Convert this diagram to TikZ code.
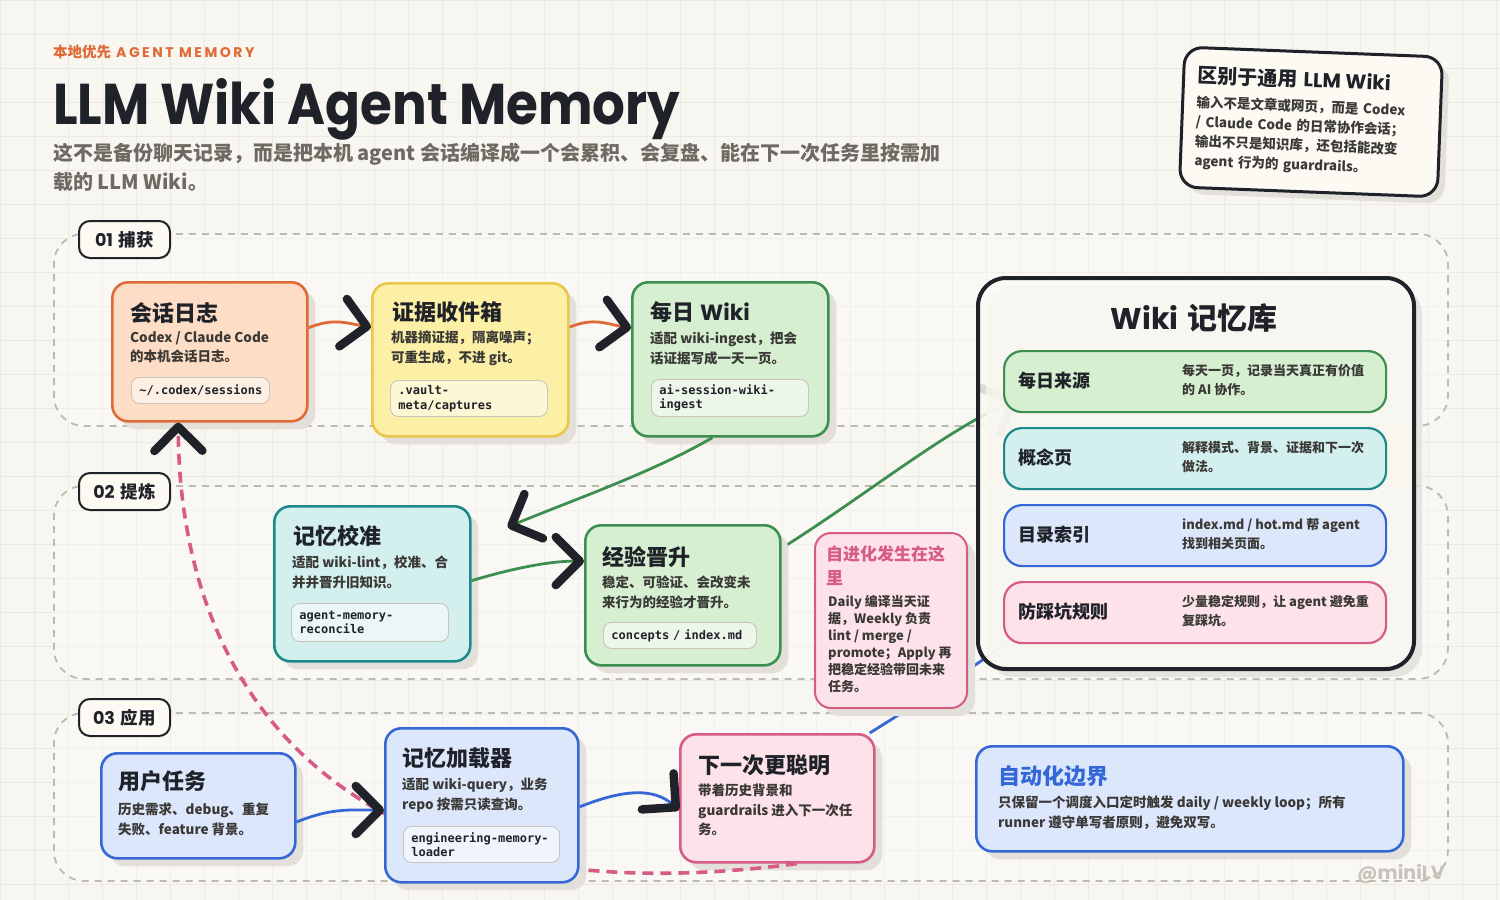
\documentclass[tikz,border=0pt]{standalone}
\usepackage{fontspec}
\setmainfont{Noto Sans CJK SC}
\setmonofont{DejaVu Sans Mono}
\newfontfamily\pop{Poppins}
\newfontfamily\popls{Poppins}[LetterSpace=18]
\usetikzlibrary{arrows.meta,calc,shadows}
\pgfdeclarelayer{bgl}\pgfdeclarelayer{under}\pgfdeclarelayer{over}\pgfdeclarelayer{top}\pgfdeclarelayer{topmost}
\pgfsetlayers{bgl,under,main,over,top,topmost}
\definecolor{bg}{HTML}{F8F6F0}
\definecolor{gridc}{HTML}{ECE9E1}
\definecolor{ink}{HTML}{1F2228}
\definecolor{bodyc}{HTML}{3A3936}
\definecolor{subc}{HTML}{6E6A63}
\definecolor{orB}{HTML}{E06A36}\definecolor{orF}{HTML}{FDDDC6}
\definecolor{yeB}{HTML}{EAC649}\definecolor{yeF}{HTML}{FCEFA6}
\definecolor{grB}{HTML}{3C8F50}\definecolor{grF}{HTML}{D7EFD1}
\definecolor{teB}{HTML}{1E8A8C}\definecolor{teF}{HTML}{D3EFEE}
\definecolor{blB}{HTML}{3568D6}\definecolor{blF}{HTML}{DCE7FC}
\definecolor{piB}{HTML}{D65B86}\definecolor{piF}{HTML}{FDE2EA}
\definecolor{shd}{HTML}{E2E0D9}
\definecolor{lanec}{HTML}{BDBAB2}
\definecolor{chipB}{HTML}{C8C5BD}
\definecolor{wm}{HTML}{C6C3BB}
\definecolor{cardF}{HTML}{FCFAF3}
\tikzset{
 card/.style={draw, line width=2.6pt, rounded corners=16pt, anchor=north west, inner sep=0pt,
   drop shadow={shadow xshift=8pt,shadow yshift=-8pt,fill=shd,opacity=1}},
 ttl/.style={anchor=west, inner sep=0pt, text=ink, font=\fontsize{22}{26}\selectfont\bfseries},
 bod/.style={anchor=north west, inner sep=0pt, text=bodyc, align=left, font=\fontsize{13.5}{19.5}\selectfont\bfseries},
 chip/.style={draw=chipB, line width=0.9pt, fill=white, fill opacity=0.55, text opacity=1, rounded corners=8pt,
   anchor=north west, inner xsep=8pt, inner ysep=0pt, align=left, text=ink, font=\fontsize{12}{14.5}\selectfont\ttfamily\bfseries},
 lane/.style={draw=lanec, line width=1.8pt, dash pattern=on 7pt off 6pt, rounded corners=30pt, fill=white, fill opacity=0.3,
   anchor=north west, inner sep=0pt, minimum width=1394pt},
 lab/.style={draw=ink, line width=2pt, fill=cardF, rounded corners=11pt, anchor=north west, minimum width=91pt,
   minimum height=37pt, inner sep=0pt, text=ink, font=\fontsize{17.5}{20}\selectfont\bfseries},
 wrow/.style={draw, line width=2.2pt, rounded corners=18pt, anchor=north west, minimum width=382pt, minimum height=61pt, inner sep=0pt},
 wlab/.style={anchor=west, inner sep=0pt, text=ink, font=\fontsize{18}{22}\selectfont\bfseries},
 wdes/.style={anchor=west, inner sep=0pt, text=bodyc, align=left, font=\fontsize{13}{19}\selectfont\bfseries},
 chev/.style={-{Straight Barb[length=24pt,width=48pt,line width=8.5pt,round,color=ink]}},
 conO/.style={orB, line width=2.8pt, chev},
 conG/.style={grB, line width=2.8pt, chev},
 conB/.style={blB, line width=2.8pt, chev},
 conBn/.style={blB, line width=2.8pt},
 conP/.style={piB, line width=3.6pt, dash pattern=on 11pt off 7pt, chev},
}
\begin{document}
\begin{tikzpicture}[x=1pt,y=-1pt]
\useasboundingbox (0,0) rectangle (1500,900);
\begin{pgfonlayer}{bgl}
\fill[bg] (0,0) rectangle (1500,900);
\foreach \g in {0,34,...,1500} \draw[gridc, line width=0.8pt] (\g,0) -- (\g,900);
\foreach \g in {0,34,...,900} \draw[gridc, line width=0.8pt] (0,\g) -- (1500,\g);
\node[lane, minimum height=192pt] (L1) at (53,233) {};
\node[lane, minimum height=193pt] (L2) at (53,485) {};
\node[lane, minimum height=168pt] (L3) at (53,712) {};
\node[lab] (lab1) at (78,220) {{\pop 01}\hspace{6pt}捕获};
\node[lab] (lab2) at (78,472) {{\pop 02}\hspace{6pt}提炼};
\node[lab] (lab3) at (78,698) {{\pop 03}\hspace{6pt}应用};
\end{pgfonlayer}

% header
\node[anchor=west, inner sep=0pt, text=orB] (kicker) at (53,52) {{\fontsize{14.5}{16}\selectfont\bfseries 本地优先\hspace{5pt}}{\popls\bfseries\fontsize{14}{16}\selectfont AGENT MEMORY}};
\node[anchor=base west, inner sep=0pt, text=ink] (title) at (53,124) {\resizebox{627pt}{46pt}{\pop\bfseries LLM Wiki Agent Memory}};
\node[anchor=north west, inner sep=0pt, text=subc, align=left, font=\fontsize{20}{29}\selectfont\bfseries] (sub) at (53,143)
 {这不是备份聊天记录，而是把本机 agent 会话编译成一个会累积、会复盘、能在下一次任务里按需加\\载的 LLM Wiki。};

% top-right card
\node[draw=ink, line width=3pt, fill=cardF, rounded corners=18pt, rotate=-2.2, minimum width=258pt, minimum height=140pt,
  text width=230pt, inner xsep=14pt, align=left, text=bodyc, font=\fontsize{13.5}{19.5}\selectfont\bfseries,
  drop shadow={shadow xshift=7pt,shadow yshift=-7pt,fill=shd,opacity=1}] (diff) at (1311,122)
 {{\color{ink}\fontsize{20}{22}\selectfont 区别于通用\hspace{6pt}{\pop\bfseries LLM Wiki}}\\[5pt]
  输入不是文章或网页，而是 Codex\\/ Claude Code 的日常协作会话；\\输出不只是知识库，还包括能改变\\agent 行为的 guardrails。};

% 01
\node[card, fill=orF, draw=orB, minimum width=195pt, minimum height=139pt] (s1) at (111,281) {};
\node[ttl] (s1t) at (130,313) {会话日志};
\node[bod] (s1b) at (130,331) {Codex / Claude Code\\的本机会话日志。};
\node[chip, text width=122pt, minimum height=26pt] (s1c) at (131,377) {\textasciitilde/.codex/sessions};

\node[card, fill=yeF, draw=yeB, minimum width=196pt, minimum height=153pt] (s2) at (371,282) {};
\node[ttl] (s2t) at (392,312) {证据收件箱};
\node[bod] (s2b) at (391,331) {机器摘证据，隔离噪声；\\可重生成，不进 git。};
\node[chip, text width=141pt, minimum height=36pt] (s2c) at (390,380) {.vault-\\meta/captures};

\node[card, fill=grF, draw=grB, minimum width=196pt, minimum height=154pt] (s3) at (631,281) {};
\node[ttl] (s3t) at (650,312) {每日\hspace{6pt}{\pop Wiki}};
\node[bod] (s3b) at (650,332) {适配 wiki-ingest，把会\\话证据写成一天一页。};
\node[chip, text width=141pt, minimum height=37pt] (s3c) at (651,379) {ai-session-wiki-\\ingest};

% wiki
\node[draw=ink, line width=4pt, rounded corners=28pt, fill=cardF, fill opacity=0.86, anchor=north west, inner sep=0pt,
  minimum width=436pt, minimum height=391pt, drop shadow={shadow xshift=8pt,shadow yshift=-8pt,fill=shd,opacity=0.8}] (wiki) at (976,276) {};
\node[inner sep=0pt, text=ink, font=\fontsize{30}{34}\selectfont\bfseries] (wikit) at (1194,318) {{\pop Wiki}\hspace{9pt}记忆库};
\node[wrow, fill=grF, draw=grB] (r1) at (1003,350) {};
\node[wlab] (r1l) at (1018,381) {每日来源};
\node[wdes] (r1d) at (1182,380) {每天一页，记录当天真正有价值\\的 AI 协作。};
\node[wrow, fill=teF, draw=teB] (r2) at (1003,427) {};
\node[wlab] (r2l) at (1018,458) {概念页};
\node[wdes] (r2d) at (1182,457) {解释模式、背景、证据和下一次\\做法。};
\node[wrow, fill=blF, draw=blB] (r3) at (1003,504) {};
\node[wlab] (r3l) at (1018,535) {目录索引};
\node[wdes] (r3d) at (1182,534) {index.md / hot.md 帮 agent\\找到相关页面。};
\node[wrow, fill=piF, draw=piB] (r4) at (1003,581) {};
\node[wlab] (r4l) at (1018,612) {防踩坑规则};
\node[wdes] (r4d) at (1182,611) {少量稳定规则，让 agent 避免重\\复踩坑。};

% 02
\node[card, fill=teF, draw=teB, minimum width=196pt, minimum height=155pt] (s5) at (273,505) {};
\node[ttl] (s5t) at (293,536) {记忆校准};
\node[bod] (s5b) at (292,556) {适配 wiki-lint，校准、合\\并并晋升旧知识。};
\node[chip, text width=141pt, minimum height=38pt] (s5c) at (291,603) {agent-memory-\\reconcile};

\node[card, fill=grF, draw=grB, minimum width=195pt, minimum height=140pt] (s6) at (584,524) {};
\node[ttl] (s6t) at (602,557) {经验晋升};
\node[bod] (s6b) at (602,576) {稳定、可验证、会改变未\\来行为的经验才晋升。};
\node[chip, text width=137pt, minimum height=26pt] (s6c) at (603,622) {concepts / index.md};

\node[card, line width=2pt, fill=piF, draw=piB, minimum width=152pt, minimum height=175pt] (s7) at (814,532) {};
\node[anchor=north west, inner sep=0pt, text=piB, align=left, font=\fontsize{17}{24}\selectfont\bfseries] (s7t) at (826,546) {自进化发生在这\\里};
\node[anchor=north west, inner sep=0pt, text=bodyc, align=left, font=\fontsize{13}{17}\selectfont\bfseries] (s7b) at (828,595)
 {Daily 编译当天证\\据，Weekly 负责\\lint / merge /\\promote；Apply 再\\把稳定经验带回未来\\任务。};

% 03
\node[card, fill=blF, draw=blB, minimum width=194pt, minimum height=105pt] (s8) at (100,752) {};
\node[ttl] (s8t) at (118,781) {用户任务};
\node[bod] (s8b) at (118,803) {历史需求、debug、重复\\失败、feature 背景。};

\node[card, fill=piF, draw=piB, minimum width=194pt, minimum height=128pt] (s10) at (679,733) {};
\node[ttl] (s10t) at (698,765) {下一次更聪明};
\node[bod] (s10b) at (698,784) {带着历史背景和\\guardrails 进入下一次任\\务。};

\node[card, fill=blF, draw=blB, minimum width=427pt, minimum height=105pt] (s11) at (975,745) {};
\node[ttl, text=blB] (s11t) at (998,776) {自动化边界};
\node[bod] (s11b) at (998,796) {只保留一个调度入口定时触发 daily / weekly loop；所有\\runner 遵守单写者原则，避免双写。};

\node[anchor=east, inner sep=0pt, text=wm, font=\pop\bfseries\fontsize{19}{22}\selectfont] (wmk) at (1445,874) {@miniLV};

\begin{pgfonlayer}{top}
\node[card, fill=blF, draw=blB, minimum width=193pt, minimum height=154pt] (s9) at (384,727) {};
\node[ttl] (s9t) at (402,758) {记忆加载器};
\node[bod] (s9b) at (402,778) {适配 wiki-query，业务\\repo 按需只读查询。};
\node[chip, text width=140pt, minimum height=36pt] (s9c) at (403,826) {engineering-memory-\\loader};
\end{pgfonlayer}

\begin{pgfonlayer}{under}
\draw[conG] ($(s6.north east)!0.17!(s6.south east)$) .. controls +(80,-50) and +(-70,30) .. ($(r1.north west)!0.78!(r1.south west)+(14,0)$);
\draw[conBn] ($(s10.north west)!0.97!(s10.north east)$) .. controls +(40,-25) and +(-40,30) .. ($(wiki.south west)+(30,-28)$);
\end{pgfonlayer}

\begin{pgfonlayer}{over}
\draw[conP] ($(s10.south west)!0.6!(s10.south east)$) .. controls +(-445,59) and +(2,280) .. ($(s1.south west)!0.34!(s1.south east)$);
\end{pgfonlayer}

\begin{pgfonlayer}{topmost}
\draw[conO] ($(s1.north east)!0.33!(s1.south east)$) .. controls +(25,-10) and +(-25,-4) .. ($(s2.north west)!0.29!(s2.south west)$);
\draw[conO] ($(s2.north east)!0.29!(s2.south east)$) .. controls +(25,-10) and +(-25,-4) .. ($(s3.north west)!0.3!(s3.south west)$);
\draw[conG] ($(s3.south west)!0.41!(s3.south east)$) .. controls +(-60,35) and +(60,-25) .. ($(s5.north east)!0.14!(s5.south east)+(36,0)$);
\draw[conG] ($(s5.north east)!0.48!(s5.south east)$) .. controls +(40,-12) and +(-35,0) .. ($(s6.north west)!0.26!(s6.south west)$);
\draw[conB] ($(s8.north east)!0.65!(s8.south east)$) .. controls +(35,-14) and +(-35,0) .. ($(s9.north west)!0.53!(s9.south west)$);
\draw[conB] ($(s9.north east)!0.51!(s9.south east)$) .. controls +(45,-18) and +(-25,-22) .. ($(s10.north west)!0.59!(s10.south west)$);
\end{pgfonlayer}
\end{tikzpicture}
\end{document}
